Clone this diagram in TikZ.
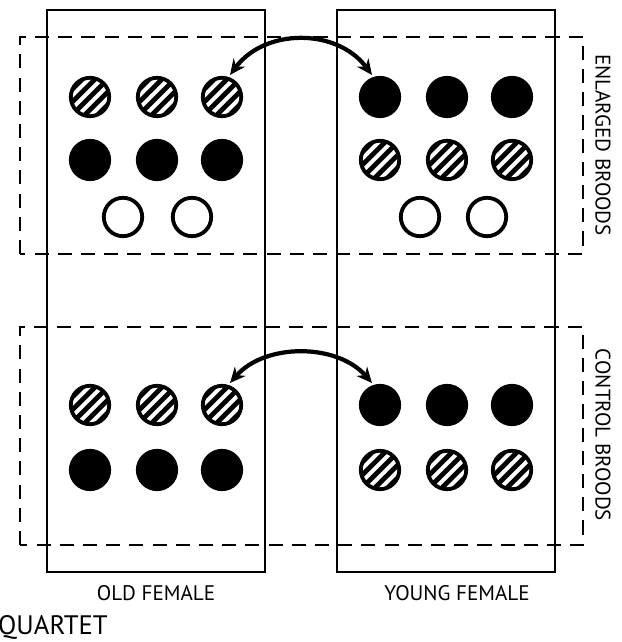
\documentclass[tikz,border=0pt]{standalone}
\usepackage{fontspec}
\setmainfont{PT Sans}
\usetikzlibrary{arrows.meta}

\begin{document}
\begin{tikzpicture}[x=0.025cm, y=0.025cm, line width=1.7pt,
    dot/.style={circle, draw, line width=2.7pt, minimum size=0.96cm, inner sep=0pt, outer sep=3pt},
    solid dot/.style={dot, fill=black},
    open dot/.style={dot, fill=white},
    hatched dot/.style={dot, path picture={
        \foreach \s in {-2,...,2}
          \draw[line width=3.4pt] ([xshift=\s*0.32cm]path picture bounding box.center) ++(-30,-30) -- ++(60,60);}},
    swaparrow/.style={{Stealth[length=11pt,width=10pt]}-{Stealth[length=11pt,width=10pt]}, line width=3pt},
    brood/.style={dashed, dash pattern=on 10pt off 6.5pt},
    lab/.style={font=\fontsize{15}{18}\selectfont}]
    \useasboundingbox (0,0) rectangle (622,642);

    % Females
    \draw (47,70) rectangle (265,632);
    \draw (337,70) rectangle (555,632);

    % Brood treatments
    \draw[brood] (20,388) rectangle (583,605);
    \draw[brood] (20,97) rectangle (583,315);

    % Enlarged broods
    \foreach \x [count=\i] in {90,157,222} {
        \node[hatched dot] (eoh\i) at (\x,545) {};
        \node[solid dot] (eos\i) at (\x,482) {};
    }
    \node[open dot] (eoo1) at (123,425) {};
    \node[open dot] (eoo2) at (192,425) {};
    \foreach \x [count=\i] in {380,447,512} {
        \node[solid dot] (eys\i) at (\x,545) {};
        \node[hatched dot] (eyh\i) at (\x,482) {};
    }
    \node[open dot] (eyo1) at (420,425) {};
    \node[open dot] (eyo2) at (487,425) {};

    % Control broods
    \foreach \x [count=\i] in {90,157,222} {
        \node[hatched dot] (coh\i) at (\x,237) {};
        \node[solid dot] (cos\i) at (\x,172) {};
    }
    \foreach \x [count=\i] in {380,447,512} {
        \node[solid dot] (cys\i) at (\x,237) {};
        \node[hatched dot] (cyh\i) at (\x,172) {};
    }

    % Swaps
    \draw[swaparrow] (eoh3.70) .. controls +(35,47) and +(-35,47) .. (eys1.110);
    \draw[swaparrow] (coh3.70) .. controls +(35,40) and +(-35,40) .. (cys1.110);

    % Labels
    \node[lab] (old) at (156,49) {OLD FEMALE};
    \node[lab] (young) at (457,49) {YOUNG FEMALE};
    \node[lab, rotate=-90] (enl) at (603,497) {ENLARGED BROODS};
    \node[lab, rotate=-90] (ctl) at (603,207) {CONTROL BROODS};
    \node[font=\fontsize{19}{22}\selectfont, anchor=west, inner sep=0pt] (quartet) at (-3,15) {QUARTET};
\end{tikzpicture}
\end{document}
